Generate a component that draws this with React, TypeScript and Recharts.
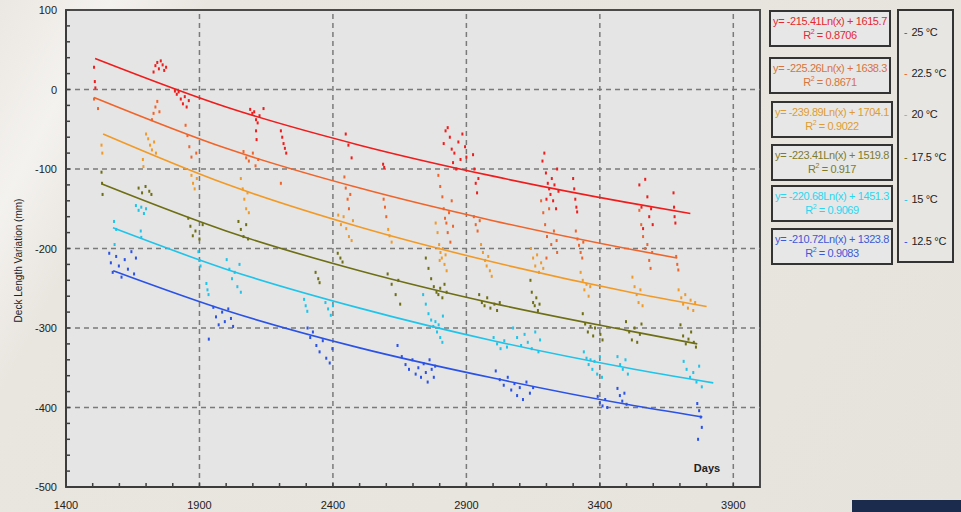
import {
  ComposedChart,
  Scatter,
  XAxis,
  YAxis,
  CartesianGrid,
  ReferenceLine,
  ReferenceArea,
} from 'recharts';

type Pt = [number, number];

// scatter readings (days, mm) per temperature class
const pts25: Pt[] = [
  [1505, 28], [1508, 10], [1510, 2],
  [1728, 22], [1735, 30], [1742, 34], [1748, 26], [1755, 36], [1762, 31], [1768, 24], [1775, 28],
  [1808, -2], [1815, -6], [1822, -3], [1830, -12], [1838, -18], [1845, -9], [1852, -22], [1860, -14],
  [2090, -25], [2098, -30], [2105, -28], [2112, -38], [2118, -42], [2125, -33], [2112, -52], [2114, -63], [2140, -24],
  [2205, -52], [2210, -60], [2215, -68], [2220, -74], [2225, -80],
  [2448, -56], [2458, -70], [2470, -86],
  [2588, -94], [2592, -98],
  [2815, -68], [2822, -52], [2830, -48], [2838, -60], [2845, -75], [2850, -92], [2855, -80], [2862, -100],
  [2870, -66], [2878, -88], [2885, -56], [2895, -72], [2900, -85],
  [2925, -82], [2930, -100], [2935, -118], [2940, -130], [2945, -112],
  [3185, -90], [3192, -80], [3198, -105], [3205, -118], [3210, -125], [3215, -132], [3220, -112], [3225, -140],
  [3230, -120], [3236, -150], [3240, -100], [3245, -128], [3200, -138],
  [3300, -112], [3304, -125], [3308, -138], [3312, -148], [3315, -154],
  [3548, -120], [3556, -148], [3562, -175], [3570, -113], [3578, -135], [3585, -160], [3592, -150], [3598, -170],
  [3676, -130], [3678, -148], [3680, -160], [3683, -168],
];

const pts225: Pt[] = [
  [1505, -12], [1520, -24],
  [1722, -38], [1728, -30], [1735, -22], [1742, -15], [1750, -28],
  [1848, -45], [1855, -58], [1862, -72], [1870, -85], [1888, -80],
  [2065, -78], [2075, -86], [2085, -90], [2100, -80], [2110, -96], [2120, -88],
  [2205, -118],
  [2443, -110], [2448, -124], [2455, -138], [2460, -150], [2465, -132],
  [2590, -138], [2595, -148], [2600, -160],
  [2795, -108], [2802, -122], [2810, -135], [2815, -150], [2820, -162], [2825, -168], [2830, -180],
  [2835, -155], [2840, -192], [2845, -140], [2850, -172],
  [2928, -160], [2935, -170], [2942, -178], [2950, -165],
  [3180, -140], [3188, -155], [3195, -170], [3202, -185], [3210, -150], [3218, -195], [3228, -178],
  [3238, -190], [3240, -205], [3200, -212],
  [3310, -178], [3316, -188], [3322, -196], [3328, -205], [3334, -212], [3338, -192],
  [3548, -152], [3555, -170], [3562, -185], [3570, -200], [3578, -195], [3585, -215], [3590, -225], [3596, -205],
  [3686, -210], [3690, -220], [3694, -227],
];

const pts20: Pt[] = [
  [1533, -70], [1536, -80],
  [1700, -56], [1708, -62], [1715, -70], [1722, -76], [1730, -66], [1737, -80],
  [1688, -88], [1690, -97],
  [1870, -108], [1876, -118], [1882, -125], [1890, -112],
  [2055, -112], [2062, -125], [2068, -138], [2075, -150], [2080, -130], [2085, -155],
  [2420, -158], [2430, -170], [2440, -160], [2450, -175], [2460, -185], [2470, -190], [2475, -165],
  [2607, -176], [2612, -184], [2620, -192],
  [2785, -168], [2792, -180], [2798, -195], [2803, -205], [2808, -212], [2812, -200], [2818, -220],
  [2822, -208], [2826, -228], [2800, -215],
  [2955, -195], [2962, -205], [2970, -215], [2976, -222], [2982, -210], [2988, -228], [2995, -235],
  [3142, -200], [3150, -212], [3158, -222], [3165, -208], [3172, -230], [3180, -218], [3188, -225],
  [3328, -230], [3336, -240], [3342, -252], [3350, -245], [3358, -260], [3364, -248],
  [3522, -236], [3530, -248], [3538, -258], [3545, -268], [3552, -252], [3560, -272],
  [3695, -252], [3705, -262], [3712, -270], [3720, -258], [3730, -275], [3740, -265], [3750, -278], [3757, -268],
];

const pts175: Pt[] = [
  [1533, -104], [1535, -118], [1537, -132],
  [1672, -124], [1685, -130], [1698, -122], [1712, -128], [1720, -132],
  [1858, -162], [1866, -172], [1875, -184], [1885, -178], [1900, -188], [1912, -170],
  [2046, -166], [2055, -176], [2065, -185], [2075, -170], [2082, -188],
  [2335, -230], [2345, -238], [2350, -243],
  [2418, -206], [2428, -212], [2436, -217],
  [2605, -232], [2620, -245], [2635, -258], [2645, -240], [2652, -270],
  [2748, -212], [2758, -225], [2768, -238], [2778, -248], [2788, -255], [2795, -258], [2802, -250],
  [2810, -262], [2818, -245], [2826, -255],
  [2948, -258], [2958, -268], [2968, -272], [2978, -262], [2990, -275], [3005, -270], [3015, -278], [3025, -268],
  [3140, -240], [3145, -255], [3150, -268], [3156, -272], [3162, -262], [3168, -278], [3174, -270],
  [3336, -282], [3345, -295], [3355, -305], [3365, -298], [3375, -310], [3382, -300],
  [3402, -308], [3410, -315],
  [3498, -292], [3510, -305], [3520, -315], [3530, -300], [3540, -318], [3550, -308], [3556, -295],
  [3702, -296], [3712, -310], [3722, -320], [3732, -314], [3742, -305], [3752, -318], [3760, -324],
];

const pts15: Pt[] = [
  [1580, -166], [1588, -176], [1582, -195],
  [1662, -146], [1672, -152], [1682, -148], [1692, -156], [1700, -150],
  [1680, -178], [1682, -186],
  [1896, -204], [1900, -215], [1904, -222],
  [1926, -244], [1930, -252], [1934, -258],
  [2002, -214], [2012, -226], [2022, -238], [2032, -230], [2042, -248], [2050, -220], [2055, -255],
  [2292, -264], [2298, -272], [2304, -279],
  [2372, -268], [2382, -276], [2392, -284], [2400, -272],
  [2738, -258], [2748, -270], [2758, -282], [2768, -290], [2776, -298], [2784, -292], [2790, -305],
  [2796, -296], [2802, -312], [2810, -318], [2812, -285],
  [3002, -312], [3015, -320], [3028, -326], [3042, -316], [3052, -324],
  [3075, -300], [3090, -312], [3105, -322], [3118, -308], [3130, -318], [3145, -326], [3158, -305],
  [3170, -330], [3176, -315],
  [3340, -330], [3350, -338], [3358, -346], [3365, -340], [3372, -352], [3380, -342], [3390, -358],
  [3400, -336], [3408, -362],
  [3466, -336], [3476, -346], [3486, -352], [3496, -340], [3505, -358],
  [3714, -342], [3725, -352], [3738, -362], [3750, -356], [3762, -368], [3772, -348], [3782, -374],
];

const pts125: Pt[] = [
  [1562, -206], [1568, -218], [1575, -230], [1588, -210], [1598, -222], [1608, -236], [1620, -214],
  [1632, -226], [1645, -204], [1655, -232], [1662, -212],
  [1952, -274], [1962, -286], [1972, -296], [1985, -280], [1995, -292], [2008, -276], [2018, -288], [2026, -298],
  [1935, -314],
  [2305, -300], [2315, -312], [2325, -305], [2338, -322], [2350, -330], [2362, -316], [2375, -338],
  [2388, -344], [2398, -326],
  [2642, -322], [2658, -336], [2672, -346], [2685, -352], [2698, -340], [2710, -358], [2720, -350],
  [2730, -362], [2740, -345], [2748, -356], [2755, -368], [2762, -340], [2770, -352], [2778, -362], [2783, -348],
  [3010, -354], [3025, -365], [3040, -372], [3055, -362], [3068, -378], [3080, -370], [3090, -385],
  [3100, -375], [3112, -390], [3125, -368], [3138, -382], [3150, -375],
  [3392, -386], [3400, -394], [3410, -398], [3420, -390], [3428, -400],
  [3466, -376], [3475, -385], [3484, -392], [3492, -382], [3500, -396],
  [3765, -395], [3772, -404], [3778, -412], [3782, -425], [3768, -440],
];

// logarithmic trend lines
const trend25: Pt[] = [[1509, 39], [2000, -22], [2500, -70], [3000, -109], [3500, -142], [3739, -156]];
const trend225: Pt[] = [[1505, -10], [2000, -74], [2500, -124], [3000, -165], [3500, -200], [3690, -212]];
const trend20: Pt[] = [[1539, -56], [2000, -119], [2500, -173], [3000, -217], [3500, -254], [3800, -273]];
const trend175: Pt[] = [[1535, -119], [2000, -178], [2500, -228], [3000, -269], [3500, -303], [3765, -320]];
const trend15: Pt[] = [[1576, -174], [2000, -226], [2500, -275], [3000, -316], [3500, -350], [3825, -369]];
const trend125: Pt[] = [[1577, -228], [2000, -278], [2500, -325], [3000, -363], [3500, -396], [3784, -412]];

const seriesNames = ['25 °C', '22.5 °C', '20 °C', '17.5 °C', '15 °C', '12.5 °C'];
const equations = [
  'y= -215.41Ln(x) + 1615.7',
  'y= -225.26Ln(x) + 1638.3',
  'y= -239.89Ln(x) + 1704.1',
  'y= -223.41Ln(x) + 1519.8',
  'y= -220.68Ln(x) + 1451.3',
  'y= -210.72Ln(x) + 1323.8',
];
const rSquared = ['0.8706', '0.8671', '0.9022', '0.917', '0.9069', '0.9083'];

const xMajor = [1400, 1900, 2400, 2900, 3400, 3900];
const xTicks = [
  1400, 1500, 1600, 1700, 1800, 1900, 2000, 2100, 2200, 2300, 2400, 2500, 2600,
  2700, 2800, 2900, 3000, 3100, 3200, 3300, 3400, 3500, 3600, 3700, 3800, 3900,
];
const yMajor = [-500, -400, -300, -200, -100, 0, 100];
const yTicks = [
  -500, -480, -460, -440, -420, -400, -380, -360, -340, -320, -300, -280, -260, -240, -220, -200,
  -180, -160, -140, -120, -100, -80, -60, -40, -20, 0, 20, 40, 60, 80, 100,
];
const xGrid = [1900, 2400, 2900, 3400, 3900];
const yGrid = [-400, -300, -200, -100, 0];

const colors = ['#f01c1c', '#f0642a', '#f29a26', '#6e6e14', '#1ec4ea', '#2a52e6'];
const eqColors = ['#e42a30', '#d8743c', '#de9c34', '#7c7c2c', '#2cd6f0', '#3c5ad6'];

const allPts = [pts25, pts225, pts20, pts175, pts15, pts125];
const allTrends = [trend25, trend225, trend20, trend175, trend15, trend125];

const toObj = (arr: Pt[]) => arr.map(([x, y]) => ({ x, y }));

const FONT = '"Liberation Sans", Arial, sans-serif';

const XTick = (props: any) => {
  const { x, y, payload } = props;
  const major = xMajor.includes(payload.value);
  return (
    <g>
      <line x1={x} y1={y} x2={x} y2={y - 4} stroke="#404040" strokeWidth={1.5} />
      {major && (
        <text x={x} y={y + 22} textAnchor="middle" fontSize={11} fill="#222" fontFamily={FONT}>
          {payload.value}
        </text>
      )}
    </g>
  );
};

const YTick = (props: any) => {
  const { x, y, payload } = props;
  const major = yMajor.includes(payload.value);
  return (
    <g>
      <line x1={x} y1={y} x2={x + 4} y2={y} stroke="#404040" strokeWidth={1.5} />
      {major && (
        <text x={x - 9} y={y + 4} textAnchor="end" fontSize={11} fill="#222" fontFamily={FONT}>
          {payload.value}
        </text>
      )}
    </g>
  );
};

const boxTops = [10, 57, 101, 144, 185, 228];
const boxLefts = [769, 769, 771, 771, 771, 771];
const nameTops = [32, 73, 114, 157, 199, 241];

export default function App() {
  return (
    <div
      style={{
        position: 'absolute',
        left: 0,
        top: 0,
        width: 961,
        height: 512,
        overflow: 'hidden',
        fontFamily: FONT,
        background:
          'linear-gradient(118deg, #ebe7e2 0%, #f4f2ef 9%, #e9e5df 17%, #e8e4de 60%, #e6e2dc 100%)',
      }}
    >
      <ComposedChart width={770} height={512} margin={{ top: 10, right: 10, bottom: 0, left: 0 }}>
        <CartesianGrid horizontal={false} vertical={false} fill="#e5e5e5" />
        <XAxis
          type="number"
          dataKey="x"
          domain={[1400, 4000]}
          ticks={xTicks}
          interval={0}
          allowDataOverflow
          height={25}
          tickSize={0}
          tickMargin={0}
          tickLine={false}
          tick={<XTick />}
          axisLine={{ stroke: '#3c3c3c', strokeWidth: 2 }}
          label={{
            content: (p: any) => (
              <text
                x={p.viewBox.x + p.viewBox.width - 53}
                y={p.viewBox.y - 15}
                textAnchor="middle"
                fontSize={11}
                fontWeight="bold"
                fill="#222"
                fontFamily={FONT}
              >
                Days
              </text>
            ),
          }}
        />
        <YAxis
          type="number"
          dataKey="y"
          domain={[-500, 100]}
          ticks={yTicks}
          interval={0}
          allowDataOverflow
          width={66}
          tickSize={0}
          tickMargin={0}
          tickLine={false}
          tick={<YTick />}
          axisLine={{ stroke: '#3c3c3c', strokeWidth: 2 }}
          label={{
            content: (p: any) => {
              const cx = 22;
              const cy = p.viewBox.y + p.viewBox.height / 2 + 12;
              return (
                <text
                  x={cx}
                  y={cy}
                  transform={`rotate(-90, ${cx}, ${cy})`}
                  textAnchor="middle"
                  fontSize={10}
                  fill="#222"
                  fontFamily={FONT}
                >
                  Deck Length Variation (mm)
                </text>
              );
            },
          }}
        />
        {xGrid.map((v) => (
          <ReferenceLine key={`gx${v}`} x={v} stroke="#7a7a7a" strokeWidth={1.5} strokeDasharray="5 4" />
        ))}
        {yGrid.map((v) => (
          <ReferenceLine key={`gy${v}`} y={v} stroke="#7a7a7a" strokeWidth={1.5} strokeDasharray="5 4" />
        ))}
        <ReferenceArea x1={1400} x2={4000} y1={-500} y2={100} fill="none" stroke="#4a4a4a" strokeWidth={2} />
        {allPts.map((pts, i) => (
          <Scatter
            key={`s${i}`}
            name={seriesNames[i]}
            data={toObj(pts)}
            isAnimationActive={false}
            shape={(p: any) => <rect x={p.cx - 1} y={p.cy - 1.5} width={2} height={3} fill={colors[i]} />}
          />
        ))}
        {allTrends.map((tr, i) => (
          <Scatter
            key={`t${i}`}
            data={toObj(tr)}
            isAnimationActive={false}
            line={{ stroke: colors[i], strokeWidth: 1.6 }}
            lineJointType="monotoneX"
            shape={() => <g />}
          />
        ))}
      </ComposedChart>

      {equations.map((eq, i) => (
        <div
          key={eq}
          style={{
            position: 'absolute',
            left: boxLefts[i],
            top: boxTops[i],
            width: 118,
            height: 31,
            border: '2px solid #333',
            background: '#e7e7e7',
            color: eqColors[i],
            fontSize: 11,
            lineHeight: '14px',
            textAlign: 'center',
            letterSpacing: -0.4,
            whiteSpace: 'nowrap',
            paddingTop: 2,
            boxSizing: 'content-box',
          }}
        >
          <div>{eq}</div>
          <div>
            R<sup style={{ fontSize: 7, verticalAlign: 'top', lineHeight: '8px' }}>2</sup> = {rSquared[i]}
          </div>
        </div>
      ))}

      <div
        style={{
          position: 'absolute',
          left: 897,
          top: 9,
          width: 53,
          height: 250,
          border: '2px solid #333',
          background: '#e8e6e2',
        }}
      />
      {seriesNames.map((n, i) => (
        <div
          key={n}
          style={{
            position: 'absolute',
            left: 904,
            top: nameTops[i] - 7,
            fontSize: 11,
            lineHeight: '14px',
            color: '#222',
            whiteSpace: 'nowrap',
            letterSpacing: -0.3,
          }}
        >
          <span style={{ color: colors[i], marginRight: 4 }}>-</span>
          {n}
        </div>
      ))}
      <div
        style={{ position: 'absolute', left: 852, top: 500, width: 109, height: 12, background: '#1b2b4e' }}
      />
    </div>
  );
}
